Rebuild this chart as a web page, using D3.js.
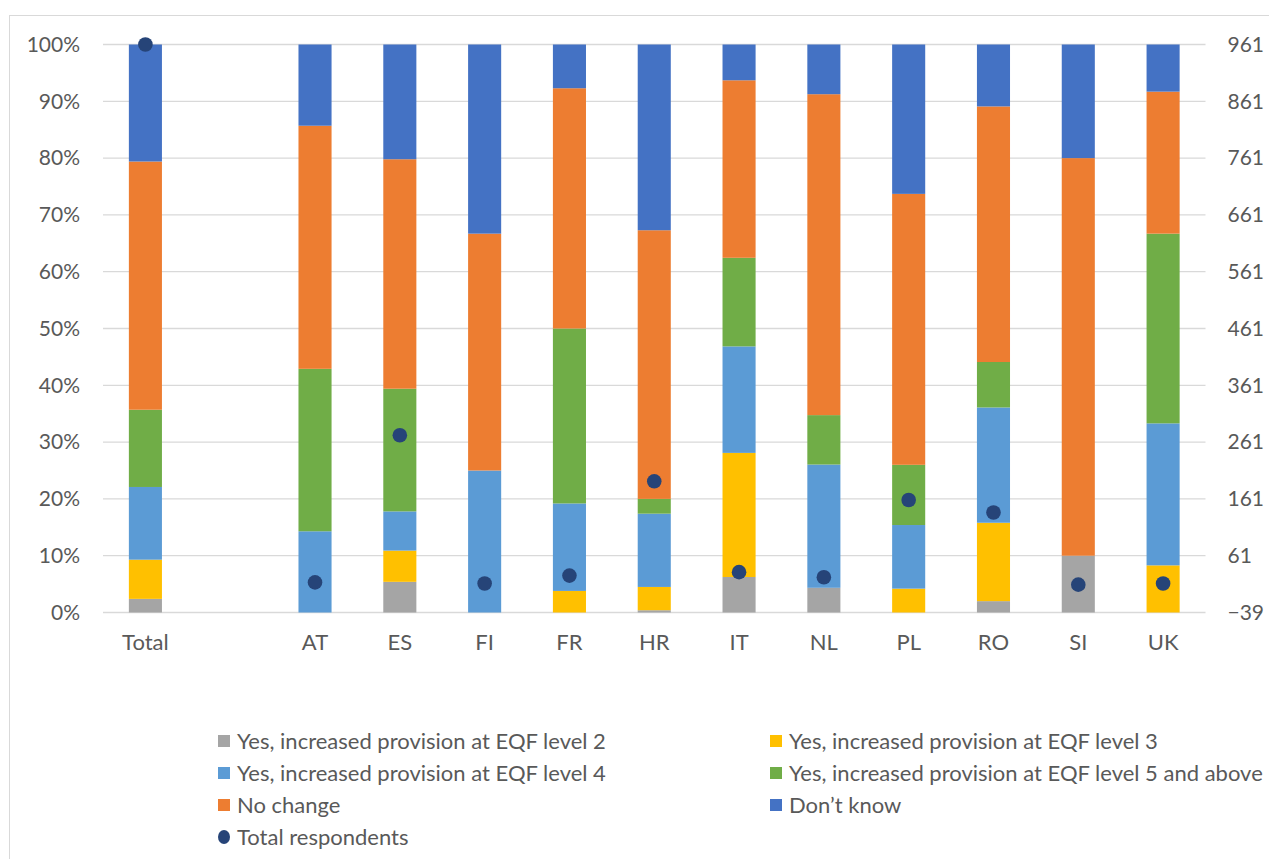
<!DOCTYPE html>
<html>
<head>
<meta charset="utf-8">
<script src="https://cdn.jsdelivr.net/npm/d3@7"></script>
<style>
  html, body { margin: 0; padding: 0; background: #fff; }
  svg { display: block; }
  text { font-family: Lato, "Open Sans", sans-serif; fill: #595959; }
</style>
</head>
<body>
<svg id="chart" width="1269" height="859"></svg>
<script>
// Categories along the x axis (an empty slot separates Total from the countries)
const categories = ["Total", "", "AT", "ES", "FI", "FR", "HR", "IT", "NL", "PL", "RO", "SI", "UK"];

// Share of answers per category, in percent
const eqfLevel2   = [2.4, 0, 0,    5.4,  0,    0,    0.4,  6.25,  4.35, 0,    2.0,  10, 0];
const eqfLevel3   = [6.9, 0, 0,    5.5,  0,    3.8,  4.1,  21.85, 0,    4.2,  13.8, 0,  8.3];
const eqfLevel4   = [12.8, 0, 14.3, 6.9, 25,   15.4, 12.9, 18.75, 21.7, 11.2, 20.3, 0,  25];
const eqfLevel5   = [13.6, 0, 28.6, 21.6, 0,   30.8, 2.6,  15.6,  8.7,  10.6, 8.0,  0,  33.4];
const noChange    = [43.7, 0, 42.8, 40.4, 41.7, 42.3, 47.3, 31.25, 56.5, 47.7, 45.0, 70, 25];
const dontKnow    = [20.6, 0, 14.3, 20.2, 33.3, 7.7,  32.7, 6.3,   8.75, 26.3, 10.9, 20, 8.3];

// Number of respondents per category (right axis)
const respondents = [961, null, 14, 273, 12, 26, 192, 32, 23, 159, 137, 10, 12];

const seriesNames = [
  "Yes, increased provision at EQF level 2",
  "Yes, increased provision at EQF level 3",
  "Yes, increased provision at EQF level 4",
  "Yes, increased provision at EQF level 5 and above",
  "No change",
  "Don\u2019t know"
];
const seriesColors = ["#A5A5A5", "#FFC000", "#5B9BD5", "#70AD47", "#ED7D31", "#4472C4"];
const dotLabel = "Total respondents";
const dotColor = "#264478";

// Axis tick values
const pctTicks = [0, 10, 20, 30, 40, 50, 60, 70, 80, 90, 100];
const countTicks = [-39, 61, 161, 261, 361, 461, 561, 661, 761, 861, 961];

const seriesValues = [eqfLevel2, eqfLevel3, eqfLevel4, eqfLevel5, noChange, dontKnow];
const rows = categories.map((c, i) => {
  const r = { cat: c };
  seriesNames.forEach((s, k) => { r[s] = seriesValues[k][i]; });
  return r;
});

const svg = d3.select("#chart");
const plot = { left: 103, right: 1205.5, top: 44.5, bottom: 612.5 };

// Chart frame
svg.append("rect")
  .attr("x", 9.5).attr("y", 15.5)
  .attr("width", 1300).attr("height", 900)
  .attr("fill", "none").attr("stroke", "#d9d9d9").attr("stroke-width", 1);

const x = d3.scaleBand()
  .domain(categories)
  .range([plot.left, plot.right])
  .paddingInner(0.61)
  .paddingOuter(0.305);

const y = d3.scaleLinear().domain([0, 100]).range([plot.bottom, plot.top]);
const y2 = d3.scaleLinear().domain([-39, 961]).range([plot.bottom, plot.top]);

// Gridlines
svg.append("g")
  .selectAll("line")
  .data(pctTicks)
  .join("line")
  .attr("x1", plot.left).attr("x2", plot.right)
  .attr("y1", d => y(d)).attr("y2", d => y(d))
  .attr("stroke", "#d9d9d9").attr("stroke-width", 1.3);

// Left axis
const leftAxis = svg.append("g")
  .attr("transform", `translate(${plot.left},0)`)
  .call(d3.axisLeft(y).tickValues(pctTicks).tickFormat(d => d + "%").tickSize(0).tickPadding(23));
leftAxis.select(".domain").remove();
leftAxis.selectAll("text").style("font-size", "21px").attr("fill", "#595959");

// Right axis
const rightAxis = svg.append("g")
  .attr("transform", `translate(${plot.right},0)`)
  .call(d3.axisRight(y2).tickValues(countTicks).tickFormat(d3.format("d")).tickSize(0).tickPadding(22));
rightAxis.select(".domain").remove();
rightAxis.selectAll("text").style("font-size", "21px").attr("fill", "#595959");

// Bottom axis (category labels)
const bottomAxis = svg.append("g")
  .attr("transform", `translate(0,${plot.bottom})`)
  .call(d3.axisBottom(x).tickSize(0).tickPadding(22));
bottomAxis.select(".domain").remove();
bottomAxis.selectAll("text").style("font-size", "22px").attr("fill", "#595959");

// Stacked bars
const stack = d3.stack().keys(seriesNames)(rows);
svg.append("g")
  .selectAll("g")
  .data(stack)
  .join("g")
  .attr("fill", (d, i) => seriesColors[i])
  .selectAll("rect")
  .data(d => d.filter(p => p[1] - p[0] > 0))
  .join("rect")
  .attr("x", d => x(d.data.cat))
  .attr("width", x.bandwidth())
  .attr("y", d => y(d[1]))
  .attr("height", d => y(d[0]) - y(d[1]));

// Respondent markers
svg.append("g")
  .selectAll("circle")
  .data(categories.map((c, i) => ({ cat: c, n: respondents[i] })).filter(d => d.n != null))
  .join("circle")
  .attr("cx", d => x(d.cat) + x.bandwidth() / 2)
  .attr("cy", d => y2(d.n))
  .attr("r", 7.3)
  .attr("fill", dotColor);

// Legend
const legendItems = seriesNames.map((s, i) => ({ label: s, color: seriesColors[i], type: "rect" }))
  .concat([{ label: dotLabel, color: dotColor, type: "dot" }]);
const colX = [218, 770];
const rowY0 = 741, rowStep = 32;
const legend = svg.append("g");
legendItems.forEach((it, i) => {
  const cx = colX[i % 2];
  const cy = rowY0 + Math.floor(i / 2) * rowStep;
  const g = legend.append("g");
  if (it.type === "rect") {
    g.append("rect").attr("x", cx).attr("y", cy - 6).attr("width", 12).attr("height", 12).attr("fill", it.color);
  } else {
    g.append("ellipse").attr("cx", cx + 6).attr("cy", cy).attr("rx", 6).attr("ry", 7).attr("fill", it.color);
  }
  g.append("text")
    .attr("x", cx + 19).attr("y", cy)
    .attr("dy", "0.35em")
    .style("font-size", "22px")
    .text(it.label);
});
</script>
</body>
</html>
